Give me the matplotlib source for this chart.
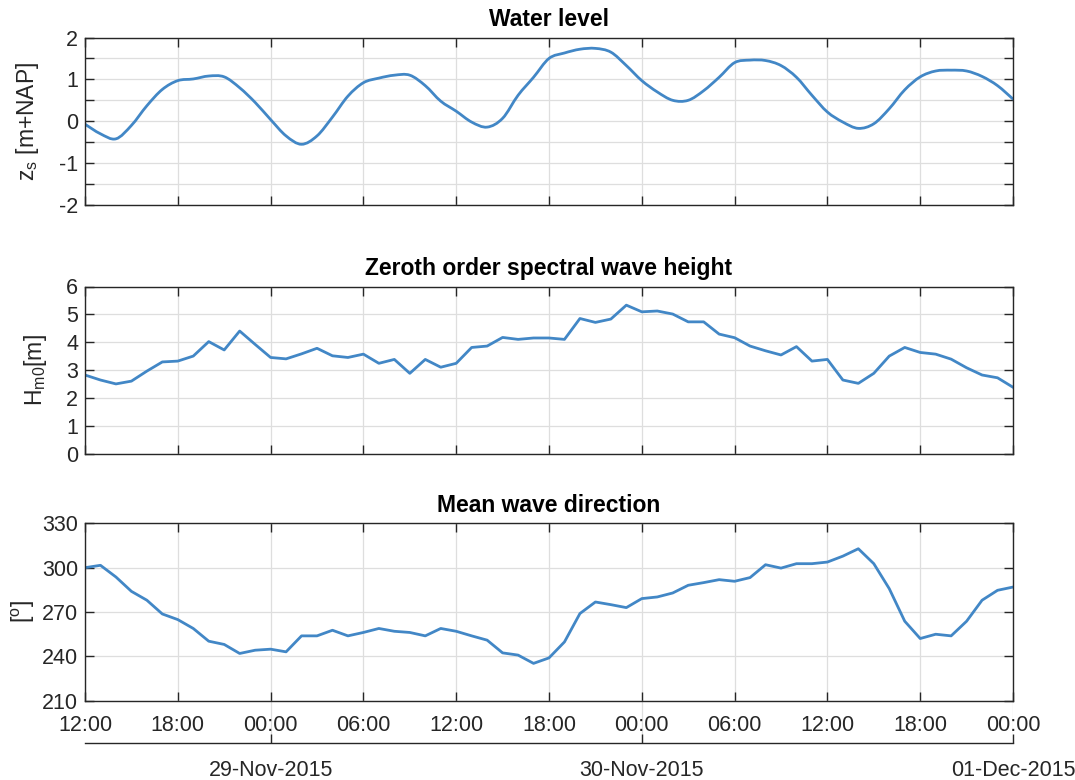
import matplotlib
matplotlib.use("Agg")
import matplotlib.pyplot as plt
import matplotlib.dates as mdates
from matplotlib.ticker import FuncFormatter, MultipleLocator
from matplotlib.path import Path
from matplotlib.patches import PathPatch
import numpy as np
import pandas as pd

# ---- data: hourly series, 28-Nov-2015 12:00 to 01-Dec-2015 00:00 ----
times = pd.date_range("2015-11-28 12:00", periods=61, freq="h")

water_level = [
    -0.07, -0.30, -0.42, -0.10, 0.37, 0.76, 0.97, 1.01, 1.08, 1.06,
    0.80, 0.45, 0.04, -0.35, -0.55, -0.35, 0.10, 0.60, 0.92, 1.03,
    1.10, 1.10, 0.85, 0.48, 0.24, -0.02, -0.14, 0.07, 0.62, 1.05,
    1.50, 1.63, 1.72, 1.74, 1.65, 1.33, 0.97, 0.70, 0.50, 0.50,
    0.73, 1.05, 1.40, 1.46, 1.45, 1.33, 1.05, 0.62, 0.22, -0.02,
    -0.17, -0.06, 0.30, 0.75, 1.06, 1.20, 1.22, 1.20, 1.07, 0.85,
    0.53,
]

wave_height = [
    2.82, 2.64, 2.50, 2.60, 2.96, 3.29, 3.32, 3.50, 4.02, 3.72,
    4.40, 3.92, 3.45, 3.40, 3.58, 3.78, 3.51, 3.45, 3.57, 3.24,
    3.38, 2.88, 3.38, 3.10, 3.24, 3.81, 3.86, 4.17, 4.10, 4.15,
    4.15, 4.10, 4.85, 4.71, 4.83, 5.33, 5.09, 5.12, 5.01, 4.73,
    4.73, 4.29, 4.16, 3.86, 3.69, 3.54, 3.84, 3.32, 3.38, 2.64,
    2.52, 2.88, 3.50, 3.81, 3.63, 3.57, 3.39, 3.08, 2.82, 2.72,
    2.38,
]

wave_direction = [
    300.0, 301.6, 293.7, 284.0, 278.0, 268.7, 264.9, 258.9, 250.3, 248.1,
    242.0, 244.2, 244.9, 243.1, 253.9, 253.9, 257.7, 253.9, 256.2, 258.9,
    257.0, 256.2, 253.9, 258.9, 257.0, 253.9, 251.0, 242.4, 240.9, 235.3,
    239.0, 249.8, 269.0, 276.8, 275.0, 273.0, 279.1, 280.2, 282.9, 288.1,
    289.9, 291.9, 290.8, 293.3, 302.0, 299.7, 302.7, 302.7, 303.8, 307.8,
    312.8, 302.7, 285.8, 263.8, 252.1, 255.0, 253.9, 263.8, 278.0, 284.7,
    286.9,
]

titles = ["Water level", "Zeroth order spectral wave height", "Mean wave direction"]
ylabels = [r"z$_s$ [m+NAP]", r"H$_{m0}$[m]", r"[$^o$]"]

# ---- style ----
plt.rcParams["font.family"] = ["Liberation Sans", "DejaVu Sans"]
plt.rcParams["mathtext.fontset"] = "custom"
plt.rcParams["mathtext.rm"] = "Liberation Sans"
plt.rcParams["mathtext.default"] = "regular"
plt.rcParams["axes.unicode_minus"] = False

LINE = "#4287C6"
DARK = "#262626"
GRID = "#dedede"
FS = 15.5
TICKLEN = 6.5
LW = 2.0


def smooth_path(x, y):
    """Cubic Bezier path passing through every (x, y) sample (Catmull-Rom tangents)."""
    x = np.asarray(x, float)
    y = np.asarray(y, float)
    pts = np.column_stack([x, y])
    verts = [pts[0]]
    codes = [Path.MOVETO]
    n = len(pts)
    for i in range(n - 1):
        p0 = pts[max(i - 1, 0)]
        p1 = pts[i]
        p2 = pts[i + 1]
        p3 = pts[min(i + 2, n - 1)]
        c1 = p1 + (p2 - p0) / 6.0
        c2 = p2 - (p3 - p1) / 6.0
        verts += [c1, c2, p2]
        codes += [Path.CURVE4] * 3
    return Path(verts, codes)


fig = plt.figure(figsize=(10.75, 7.8), dpi=100)

left, width = 85 / 1075, (1013 - 85) / 1075
boxes = [(37.5, 205.0), (286.5, 453.5), (523.3, 700.8)]
axes = []
for top, bot in boxes:
    ax = fig.add_axes([left, 1 - bot / 780, width, (bot - top) / 780])
    axes.append(ax)

series = [water_level, wave_height, wave_direction]
ylims = [(-2, 2), (0, 6), (210, 330)]
ysteps = [0.5, 1, 30]
labelpads = [12.5, 12.5, 3.5]
xnum = mdates.date2num(times)

for i, ax in enumerate(axes):
    if i == 0:
        ax.add_patch(PathPatch(smooth_path(xnum, series[i]), fill=False,
                               edgecolor=LINE, lw=LW, capstyle="round",
                               joinstyle="round"))
    else:
        ax.plot(times, series[i], color=LINE, lw=LW, solid_joinstyle="round")
    ax.xaxis_date()
    ax.set_xlim(times[0], times[-1])
    ax.set_ylim(*ylims[i])
    ax.yaxis.set_major_locator(MultipleLocator(ysteps[i]))
    ax.xaxis.set_major_locator(mdates.HourLocator(byhour=[0, 6, 12, 18]))
    ax.xaxis.set_major_formatter(mdates.DateFormatter("%H:%M"))
    ax.grid(True, color=GRID, lw=0.9)
    ax.set_axisbelow(True)
    for s in ax.spines.values():
        s.set_color(DARK)
        s.set_linewidth(1.0)
    ax.tick_params(direction="in", length=TICKLEN, width=1.0, color=DARK,
                   labelcolor=DARK, labelsize=FS, top=True, right=True)
    ax.tick_params(axis="y", pad=5)
    ax.tick_params(axis="x", pad=10.5)
    ax.set_title(titles[i], fontsize=16.5, fontweight="bold", color="black", pad=8)
    ax.set_ylabel(ylabels[i], fontsize=16.5, color=DARK, labelpad=labelpads[i])
    if i < 2:
        ax.tick_params(labelbottom=False)

# integer labels only on the water-level panel
axes[0].yaxis.set_major_formatter(
    FuncFormatter(lambda v, p: f"{v:.0f}" if abs(v - round(v)) < 1e-6 else "")
)

# secondary date axis below the bottom panel
top, bot = 700.8, 743.0
axd = fig.add_axes([left, 1 - bot / 780, width, (bot - top) / 780])
axd.set_zorder(-1)
axd.patch.set_visible(False)
axd.xaxis_date()
axd.set_xlim(times[0], times[-1])
axd.set_yticks([])
for name, s in axd.spines.items():
    s.set_visible(name == "bottom")
axd.spines["bottom"].set_color(DARK)
axd.spines["bottom"].set_linewidth(1.0)
axd.xaxis.set_major_locator(mdates.DayLocator())
axd.xaxis.set_major_formatter(mdates.DateFormatter("%d-%b-%Y"))
axd.grid(True, axis="x", color=GRID, lw=0.9)
axd.tick_params(axis="x", direction="in", length=TICKLEN, width=1.0, color=DARK,
                labelcolor=DARK, labelsize=FS, pad=12.5)

fig.savefig("out.png", dpi=100, facecolor="white")
